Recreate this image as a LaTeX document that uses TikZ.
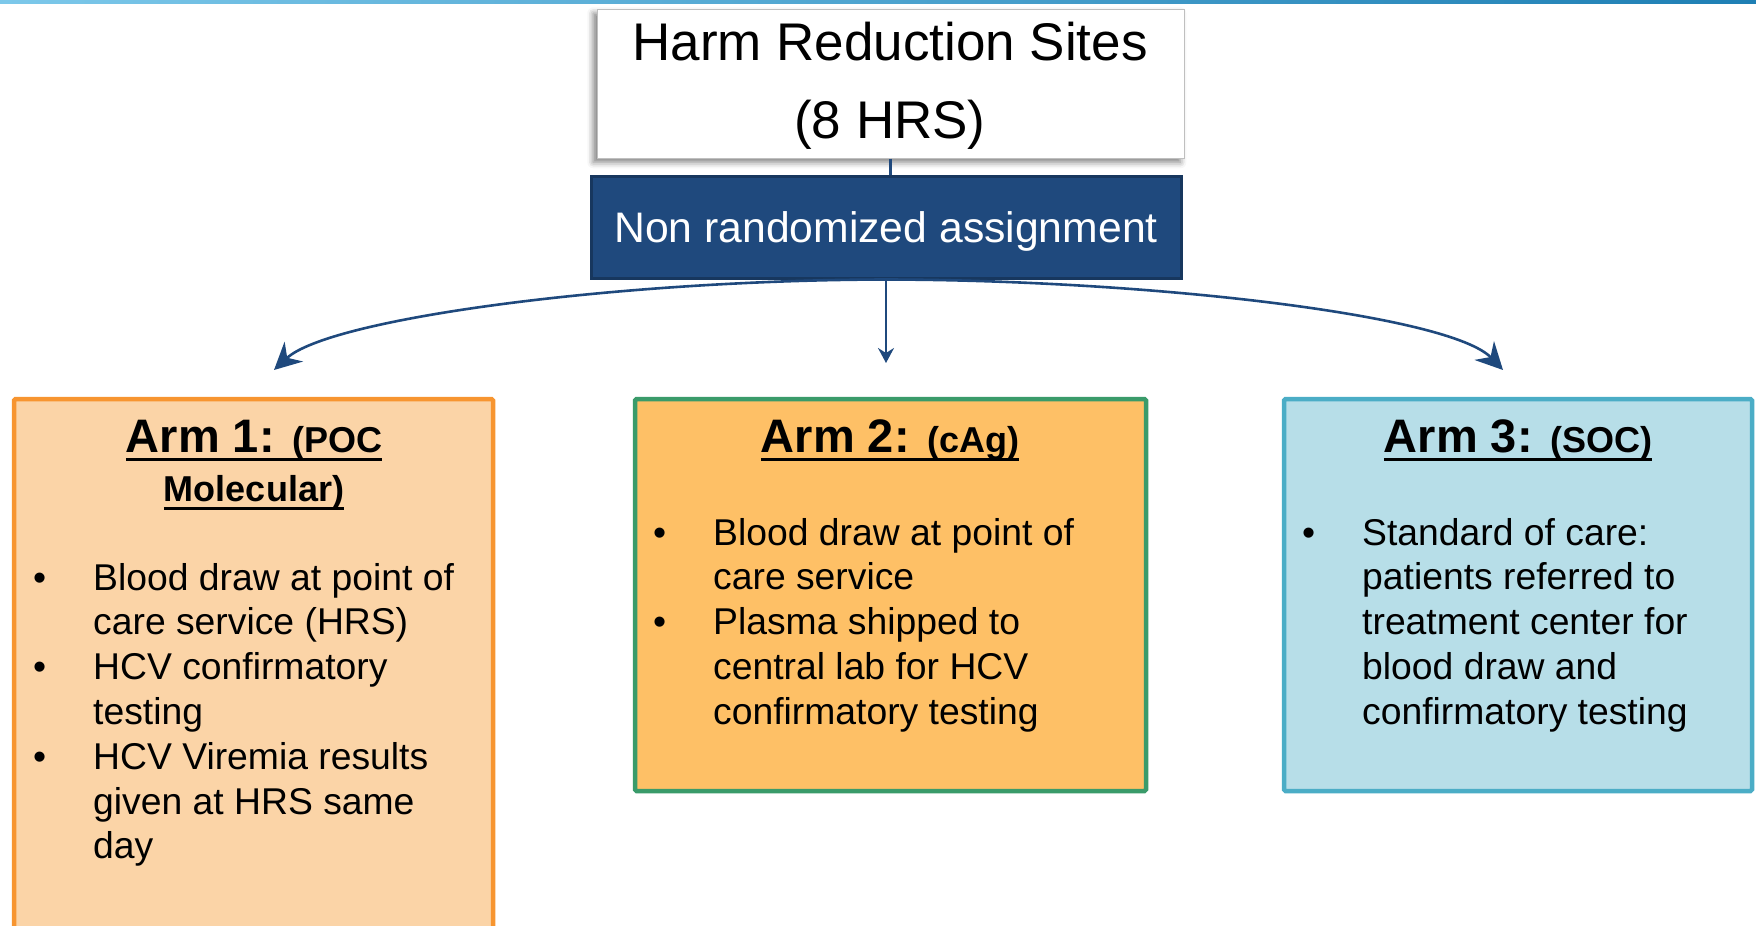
\documentclass[tikz,border=0pt]{standalone}
\usepackage{fontspec}
\setmainfont{Liberation Sans}
\usetikzlibrary{arrows.meta,shadows.blur}
\definecolor{navy}{HTML}{1F497D}
\definecolor{navyedge}{HTML}{17375E}
\definecolor{peach}{HTML}{FBD4A7}
\definecolor{peachedge}{HTML}{F79530}
\definecolor{apricot}{HTML}{FEC066}
\definecolor{greenedge}{HTML}{3A9B6A}
\definecolor{skyfill}{HTML}{B7DEE8}
\definecolor{skyedge}{HTML}{4BADC6}
\definecolor{barleft}{HTML}{7CC8EA}
\definecolor{barright}{HTML}{1E7FB4}
\newcommand\thickul[1]{\leavevmode\setbox0\hbox{#1}\rlap{\rule[-8.5pt]{\wd0}{3pt}}\box0}
\newcommand\bul{\makebox[60pt][l]{\textbullet}}
\tikzset{
  armbox/.style={draw, line width=4.5pt, rounded corners=1.5pt, inner sep=0pt, outer sep=0pt, anchor=north west},
  titletext/.style={anchor=base, inner sep=0pt, font=\fontsize{47}{52}\selectfont\bfseries},
  listtext/.style={anchor=base west, inner sep=0pt, font=\fontsize{37.3}{44.8}\selectfont},
  conn/.style={draw=navy, line width=2.6pt},
  bigtip/.style={-{Stealth[length=27pt,width=27pt,inset=9pt]}},
}
\begin{document}
\begin{tikzpicture}[x=1pt,y=-1pt]
\useasboundingbox (0,0) rectangle (1756,926);
\clip (0,0) rectangle (1756,926);
% top strip
\shade[left color=barleft, right color=barright] (0,0) rectangle (1756,3);

% Harm Reduction Sites box
\node[draw=black!25, line width=0.6pt, fill=white, minimum width=587pt, minimum height=149pt,
      inner sep=0pt, anchor=north west,
      blur shadow={shadow xshift=-4pt, shadow yshift=-4pt, shadow blur radius=6pt, shadow opacity=50}]
      (hrs) at (597,9) {};
\node[anchor=base, inner sep=0pt, font=\fontsize{53}{60}\selectfont] (hrs1) at (890,60) {Harm Reduction Sites};
\node[anchor=base, inner sep=0pt, font=\fontsize{53}{60}\selectfont] (hrs2) at (890,138) {(8 HRS)};

% assignment box
\node[draw=navyedge, line width=3pt, fill=navy, minimum width=590pt, minimum height=102pt,
      inner sep=0pt] (assign) at (886,227) {};
\node[anchor=base, inner sep=0pt, text=white, font=\fontsize{42.7}{48}\selectfont] (assigntext) at (886,242) {Non randomized assignment};

\draw[draw=navy, line width=3pt] (hrs.south) -- (hrs.south |- assign.north);

% arms
\node[armbox, draw=peachedge, fill=peach, minimum width=479pt, minimum height=560pt] (arm1) at (14,399) {};
\node[armbox, draw=greenedge, fill=apricot, minimum width=511pt, minimum height=392pt] (arm2) at (635,399) {};
\node[armbox, draw=skyedge, fill=skyfill, minimum width=468pt, minimum height=392pt] (arm3) at (1284,399) {};

% connectors
\coordinate (tipL) at (274,370);
\coordinate (tipM) at (886,363);
\coordinate (tipR) at (1503,370);
\draw[conn, bigtip] (assign.south) .. controls (620,280) and (330,318) .. (tipL);
\draw[conn, bigtip] (assign.south) .. controls (1150,280) and (1450,315) .. (tipR);
\draw[draw=navy, line width=2.2pt, -{Stealth[length=15pt,width=16pt,inset=5pt]}] (assign.south) -- (tipM);

% titles
\node[titletext] (t1a) at (254,452) {\thickul{Arm 1: {\fontsize{36}{44}\selectfont(POC}}};
\node[titletext] (t1b) at (254,501) {\thickul{\fontsize{36}{44}\selectfont Molecular)}};
\node[titletext] (t2) at (890,452) {\thickul{Arm 2: {\fontsize{36}{44}\selectfont(cAg)}}};
\node[titletext] (t3) at (1518,452) {\thickul{Arm 3: {\fontsize{36}{44}\selectfont(SOC)}}};

% lists
\node[listtext] (l1) at (33,590) {\begin{tabular}[t]{@{}l@{}l@{}}
\bul & Blood draw at point of\\
 & care service (HRS)\\
\bul & HCV confirmatory\\
 & testing\\
\bul & HCV Viremia results\\
 & given at HRS same\\
 & day
\end{tabular}};
\node[listtext] (l2) at (653,545) {\begin{tabular}[t]{@{}l@{}l@{}}
\bul & Blood draw at point of\\
 & care service\\
\bul & Plasma shipped to\\
 & central lab for HCV\\
 & confirmatory testing
\end{tabular}};
\node[listtext] (l3) at (1302,545) {\begin{tabular}[t]{@{}l@{}l@{}}
\bul & Standard of care:\\
 & patients referred to\\
 & treatment center for\\
 & blood draw and\\
 & confirmatory testing
\end{tabular}};
\end{tikzpicture}
\end{document}
